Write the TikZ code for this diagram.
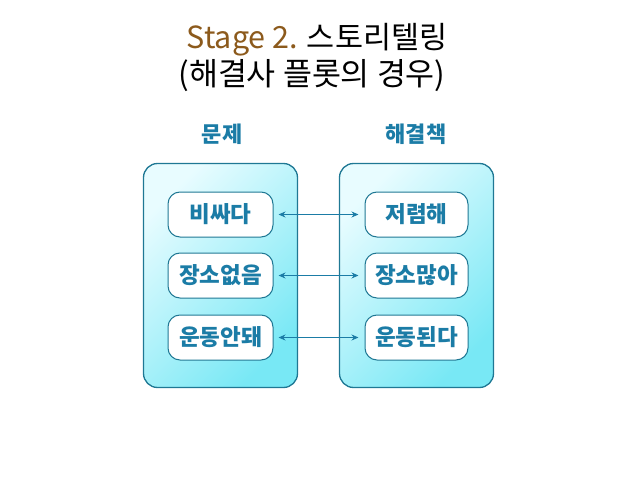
\documentclass[tikz,border=0pt]{standalone}
\usepackage{fontspec}
\setmainfont{Noto Sans CJK KR}
\usetikzlibrary{arrows.meta}
\definecolor{headblue}{HTML}{1B7CA6}
\definecolor{boxline}{HTML}{1F7894}
\definecolor{brownT}{HTML}{8C5A1C}
\definecolor{cyanA}{HTML}{E8FCFF}
\definecolor{cyanB}{HTML}{78E8F5}
\tikzset{
  bigbox/.style={draw=boxline, line width=1.3pt, rounded corners=14pt, top color=cyanA, bottom color=cyanB, shading angle=45},
  itembox/.style={draw=boxline, line width=1pt, fill=white, rounded corners=12pt, minimum width=105pt, minimum height=45pt, font=\fontsize{22.5}{26}\selectfont\bfseries, text=headblue},
  head/.style={font=\fontsize{22}{26}\selectfont\bfseries, text=headblue},
  link/.style={draw=headblue, line width=1.2pt, {Stealth[length=7pt,width=6pt]}-{Stealth[length=7pt,width=6pt]}}
}
\begin{document}
\begin{tikzpicture}[x=1pt,y=-1pt]
\useasboundingbox (0,0) rectangle (638,479);
\node[font=\fontsize{30.5}{34}\selectfont] (t1) at (317,40) {\textcolor{brownT}{Stage 2.} 스토리텔링};
\node[font=\fontsize{31.5}{34}\selectfont] (t2) at (312,76) {(해결사 플롯의 경우)};
\node[head] (h1) at (222,134) {문제};
\node[head] (h2) at (416,134) {해결책};
\node[bigbox, minimum width=154pt, minimum height=224pt] (L) at (220.5,275.5) {};
\node[bigbox, minimum width=154pt, minimum height=224pt] (R) at (416.5,275.5) {};
\node[itembox] (a1) at (220.5,214.5) {비싸다};
\node[itembox] (a2) at (220.5,275.5) {장소없음};
\node[itembox] (a3) at (220.5,337.5) {운동안돼};
\node[itembox, minimum width=103pt] (b1) at (416.5,214.5) {저렴해};
\node[itembox, minimum width=103pt] (b2) at (416.5,275.5) {장소많아};
\node[itembox, minimum width=103pt] (b3) at (416.5,337.5) {운동된다};
\draw[link] ([xshift=5pt]a1.east) -- ([xshift=-6pt]b1.west);
\draw[link] ([xshift=5pt]a2.east) -- ([xshift=-6pt]b2.west);
\draw[link] ([xshift=5pt]a3.east) -- ([xshift=-6pt]b3.west);
\end{tikzpicture}
\end{document}
